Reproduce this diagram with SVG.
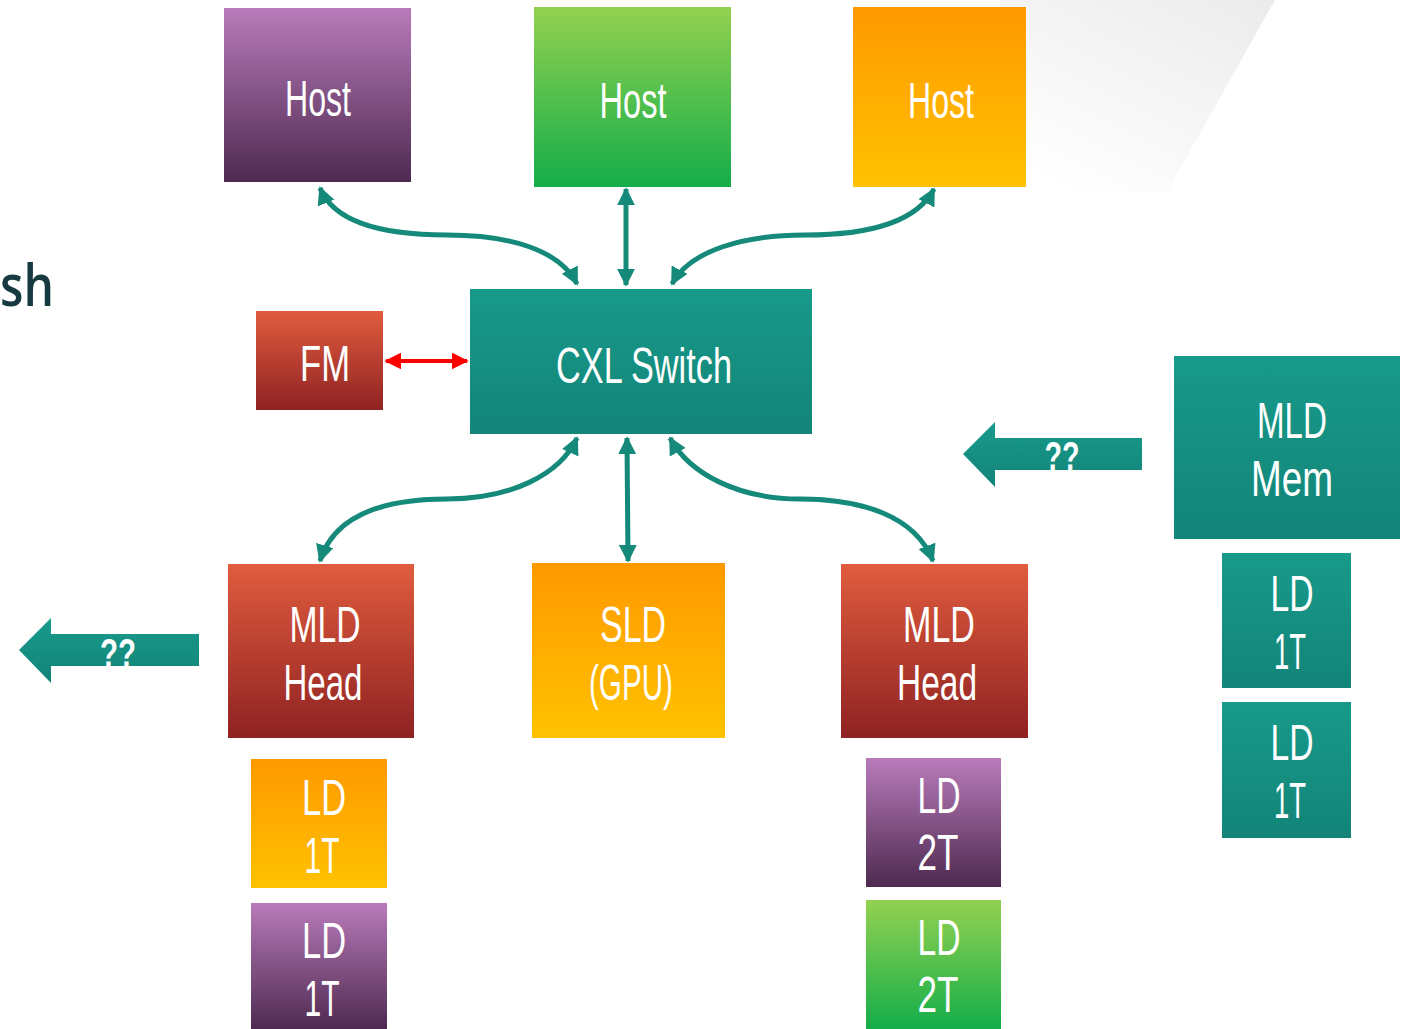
<svg xmlns="http://www.w3.org/2000/svg" width="1407" height="1029" viewBox="0 0 1407 1029">
  <defs>
    <linearGradient id="gPurple" x1="0" y1="0" x2="0" y2="1">
      <stop offset="0" stop-color="#b87bba"/>
      <stop offset="1" stop-color="#4e2a50"/>
    </linearGradient>
    <linearGradient id="gGreen" x1="0" y1="0" x2="0" y2="1">
      <stop offset="0" stop-color="#93d150"/>
      <stop offset="1" stop-color="#14ad4a"/>
    </linearGradient>
    <linearGradient id="gOrange" x1="0" y1="0" x2="0" y2="1">
      <stop offset="0" stop-color="#ff9900"/>
      <stop offset="1" stop-color="#ffc200"/>
    </linearGradient>
    <linearGradient id="gRed" x1="0" y1="0" x2="0" y2="1">
      <stop offset="0" stop-color="#e05c3e"/>
      <stop offset="1" stop-color="#8f2222"/>
    </linearGradient>
    <linearGradient id="gTeal" x1="0" y1="0" x2="0" y2="1">
      <stop offset="0" stop-color="#189a8a"/>
      <stop offset="1" stop-color="#128478"/>
    </linearGradient>
    <linearGradient id="gBand" x1="1" y1="0" x2="0.25" y2="1">
      <stop offset="0" stop-color="#ebebeb"/>
      <stop offset="1" stop-color="#ffffff"/>
    </linearGradient>
    <marker id="tealHead" viewBox="0 0 10 10" refX="9" refY="5" markerWidth="18" markerHeight="18" markerUnits="userSpaceOnUse" orient="auto-start-reverse">
      <path d="M0,0 L10,5 L0,10 z" fill="#158a7b"/>
    </marker>
    <marker id="redHead" viewBox="0 0 10 10" refX="9" refY="5" markerWidth="17" markerHeight="17" markerUnits="userSpaceOnUse" orient="auto-start-reverse">
      <path d="M0,0 L10,5 L0,10 z" fill="#ff0000"/>
    </marker>
  </defs>
  <style>
    .lbl { font-family: "Liberation Sans", Arial, sans-serif; font-size: 50px; fill: #ffffff; text-anchor: middle; }
    .q { font-family: "Liberation Sans", Arial, sans-serif; font-size: 40px; font-weight: bold; fill: #ffffff; text-anchor: middle; }
    .wire { fill: none; stroke: #158a7b; stroke-width: 5; marker-start: url(#tealHead); marker-end: url(#tealHead); }
    .block { fill: url(#gTeal); }
  </style>

  <rect width="1407" height="1029" fill="#ffffff"/>

  <!-- light diagonal band in the top-right corner -->
  <polygon points="1000,0 1275,0 1167,192 1000,192" fill="url(#gBand)"/>

  <!-- partial title text at the left edge -->
  <text x="0" y="306" font-family="'Open Sans', 'Liberation Sans', sans-serif" font-size="58" font-weight="600" fill="#173a40" textLength="54" lengthAdjust="spacingAndGlyphs">sh</text>

  <!-- hosts -->
  <g id="host-purple">
    <rect x="224" y="8" width="187" height="174" fill="url(#gPurple)"/>
    <text class="lbl" x="318" y="116" textLength="66" lengthAdjust="spacingAndGlyphs">Host</text>
  </g>
  <g id="host-green">
    <rect x="534" y="7" width="197" height="180" fill="url(#gGreen)"/>
    <text class="lbl" x="633" y="118" textLength="67" lengthAdjust="spacingAndGlyphs">Host</text>
  </g>
  <g id="host-orange">
    <rect x="853" y="7" width="173" height="180" fill="url(#gOrange)"/>
    <text class="lbl" x="941" y="118" textLength="66" lengthAdjust="spacingAndGlyphs">Host</text>
  </g>

  <!-- fabric manager -->
  <g id="fm">
    <rect x="256" y="311" width="127" height="99" fill="url(#gRed)"/>
    <text class="lbl" x="325" y="381" textLength="50" lengthAdjust="spacingAndGlyphs">FM</text>
  </g>

  <!-- switch -->
  <g id="cxl-switch">
    <rect x="470" y="289" width="342" height="145" fill="url(#gTeal)"/>
    <text class="lbl" x="644" y="383" textLength="176" lengthAdjust="spacingAndGlyphs">CXL Switch</text>
  </g>

  <!-- devices below the switch -->
  <g id="mld-head-left">
    <rect x="228" y="564" width="186" height="174" fill="url(#gRed)"/>
    <text class="lbl" x="325" y="642" textLength="71" lengthAdjust="spacingAndGlyphs">MLD</text>
    <text class="lbl" x="323" y="700" textLength="79" lengthAdjust="spacingAndGlyphs">Head</text>
  </g>
  <g id="sld-gpu">
    <rect x="532" y="563" width="193" height="175" fill="url(#gOrange)"/>
    <text class="lbl" x="633" y="642" textLength="66" lengthAdjust="spacingAndGlyphs">SLD</text>
    <text class="lbl" x="631" y="700" textLength="84" lengthAdjust="spacingAndGlyphs">(GPU)</text>
  </g>
  <g id="mld-head-right">
    <rect x="841" y="564" width="187" height="174" fill="url(#gRed)"/>
    <text class="lbl" x="939" y="642" textLength="72" lengthAdjust="spacingAndGlyphs">MLD</text>
    <text class="lbl" x="937" y="700" textLength="80" lengthAdjust="spacingAndGlyphs">Head</text>
  </g>

  <!-- logical devices of the left head -->
  <g id="ld-left-1">
    <rect x="251" y="759" width="136" height="129" fill="url(#gOrange)"/>
    <text class="lbl" x="324" y="815" textLength="44" lengthAdjust="spacingAndGlyphs">LD</text>
    <text class="lbl" x="322" y="873" textLength="35" lengthAdjust="spacingAndGlyphs">1T</text>
  </g>
  <g id="ld-left-2">
    <rect x="251" y="903" width="136" height="126" fill="url(#gPurple)"/>
    <text class="lbl" x="324" y="958" textLength="44" lengthAdjust="spacingAndGlyphs">LD</text>
    <text class="lbl" x="322" y="1016" textLength="35" lengthAdjust="spacingAndGlyphs">1T</text>
  </g>

  <!-- logical devices of the right head -->
  <g id="ld-right-1">
    <rect x="866" y="758" width="135" height="129" fill="url(#gPurple)"/>
    <text class="lbl" x="939" y="813" textLength="43" lengthAdjust="spacingAndGlyphs">LD</text>
    <text class="lbl" x="938" y="870" textLength="41" lengthAdjust="spacingAndGlyphs">2T</text>
  </g>
  <g id="ld-right-2">
    <rect x="866" y="900" width="135" height="129" fill="url(#gGreen)"/>
    <text class="lbl" x="939" y="955" textLength="43" lengthAdjust="spacingAndGlyphs">LD</text>
    <text class="lbl" x="938" y="1012" textLength="41" lengthAdjust="spacingAndGlyphs">2T</text>
  </g>

  <!-- memory device on the right -->
  <g id="mld-mem">
    <rect x="1174" y="356" width="226" height="183" fill="url(#gTeal)"/>
    <text class="lbl" x="1292" y="438" textLength="70" lengthAdjust="spacingAndGlyphs">MLD</text>
    <text class="lbl" x="1292" y="496" textLength="82" lengthAdjust="spacingAndGlyphs">Mem</text>
  </g>
  <g id="ld-mem-1">
    <rect x="1222" y="553" width="129" height="135" fill="url(#gTeal)"/>
    <text class="lbl" x="1292" y="611" textLength="43" lengthAdjust="spacingAndGlyphs">LD</text>
    <text class="lbl" x="1290" y="669" textLength="32" lengthAdjust="spacingAndGlyphs">1T</text>
  </g>
  <g id="ld-mem-2">
    <rect x="1222" y="702" width="129" height="136" fill="url(#gTeal)"/>
    <text class="lbl" x="1292" y="760" textLength="43" lengthAdjust="spacingAndGlyphs">LD</text>
    <text class="lbl" x="1290" y="818" textLength="32" lengthAdjust="spacingAndGlyphs">1T</text>
  </g>

  <!-- block arrows -->
  <g id="arrow-mem">
    <polygon class="block" points="963,454 995,422 995,438 1142,438 1142,470 995,470 995,487"/>
    <text class="q" x="1062" y="470" textLength="35" lengthAdjust="spacingAndGlyphs">??</text>
  </g>
  <g id="arrow-left">
    <polygon class="block" points="19,650 51,618 51,634 199,634 199,666 51,666 51,683"/>
    <text class="q" x="118" y="667" textLength="36" lengthAdjust="spacingAndGlyphs">??</text>
  </g>

  <!-- connectors -->
  <g id="connectors">
    <path class="wire" d="M320,188 C335,225 390,235 447,235 C510,235 560,250 577,284"/>
    <path class="wire" d="M626,189 L626,285"/>
    <path class="wire" d="M934,189 C915,225 860,235 805,235 C745,235 690,250 672,284"/>
    <path class="wire" d="M577,438 C560,475 510,499 447,499 C390,499 335,512 320,561"/>
    <path class="wire" d="M627,438 L628,561"/>
    <path class="wire" d="M670,438 C690,475 740,499 800,499 C860,499 915,515 933,561"/>
    <path d="M386,361 L467,361" fill="none" stroke="#ff0000" stroke-width="4" marker-start="url(#redHead)" marker-end="url(#redHead)"/>
  </g>
</svg>
